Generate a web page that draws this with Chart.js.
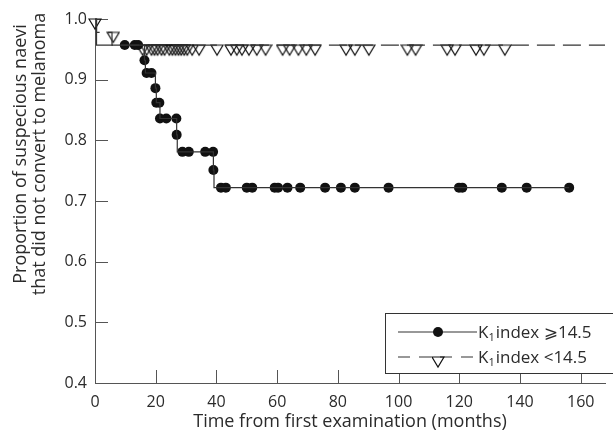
<!DOCTYPE html>
<html>
<head>
<meta charset="utf-8">
<script src="https://cdn.jsdelivr.net/npm/chart.js@4.4.0/dist/chart.umd.min.js"></script>
<style>
  html, body { margin: 0; padding: 0; background: #fff; }
</style>
</head>
<body>
<canvas id="km-chart" width="613" height="435"></canvas>
<script>
// Kaplan-Meier steps, K1 index >= 14.5 (months, proportion)
const highCurveTimes = [0, 0.5, 16.3, 16.6, 19.9, 20.2, 21.4, 26.9, 27.1, 39.0, 39.2, 156.2]
const highCurveSurv = [1.0, 0.957, 0.932, 0.911, 0.886, 0.862, 0.836, 0.809, 0.781, 0.751, 0.722, 0.722]
// circles drawn on that curve
const highMarkTimes = [9.8, 13.1, 14.2, 16.3, 17.0, 18.6, 19.9, 20.2, 21.2, 21.4, 23.5, 26.8, 26.9,
  28.8, 30.9, 36.3, 38.9, 39.0, 41.5, 43.1, 50.0, 51.8, 59.2, 60.3, 63.4, 67.6, 75.8, 81.0, 85.6,
  96.7, 119.9, 121.0, 134.0, 142.2, 156.2]
const highMarkSurv = [0.957, 0.957, 0.957, 0.932, 0.911, 0.911, 0.886, 0.862, 0.862, 0.836, 0.836, 0.836, 0.809,
  0.781, 0.781, 0.781, 0.781, 0.751, 0.722, 0.722, 0.722, 0.722, 0.722, 0.722, 0.722, 0.722, 0.722, 0.722, 0.722,
  0.722, 0.722, 0.722, 0.722, 0.722, 0.722]

// K1 index < 14.5
const lowCurveTimes = [0, 0.5, 5.6, 168]
const lowCurveSurv = [1.0, 0.978, 0.957, 0.957]
const lowMarkTimes = [0, 6.0, 15.7, 17.0, 18.6, 19.6, 20.6, 21.9, 22.9, 24.5, 25.5, 26.5, 27.5, 28.4, 29.4,
  30.4, 32.0, 34.3, 40.2, 44.8, 46.7, 48.4, 50.7, 53.3, 56.2, 61.8, 64.1, 67.0, 69.6, 72.5, 82.7, 85.6,
  90.2, 102.9, 105.6, 116.0, 118.6, 125.5, 128.1, 135.0]
const lowMarkSurv = [1.0, 0.978, 0.957, 0.957, 0.957, 0.957, 0.957, 0.957, 0.957, 0.957, 0.957, 0.957, 0.957,
  0.957, 0.957, 0.957, 0.957, 0.957, 0.957, 0.957, 0.957, 0.957, 0.957, 0.957, 0.957, 0.957, 0.957, 0.957,
  0.957, 0.957, 0.957, 0.957, 0.957, 0.957, 0.957, 0.957, 0.957, 0.957, 0.957, 0.957]

const seriesLabels = ['index \u2A7E14.5', 'index <14.5']
const yTitleLines = ['Proportion of suspecious naevi', 'that did not convert to melanoma']
const xTitle = 'Time from first examination (months)'

const textColor = '#2b2b2b'
const lineColor = '#333'
const fontFamily = '"Open Sans", "DejaVu Sans", sans-serif'
const tickLen = 13

const toPoints = (xs, ys) => xs.map((t, i) => ({ x: t, y: ys[i] }))

// open triangle, apex down, top edge sitting on the point
const makeTriangle = () => {
  const c = document.createElement('canvas')
  c.width = 14
  c.height = 24
  const g = c.getContext('2d')
  g.strokeStyle = '#111'
  g.lineWidth = 1.2
  g.beginPath()
  g.moveTo(1, 12)
  g.lineTo(13, 12)
  g.lineTo(7, 22)
  g.closePath()
  g.stroke()
  return c
}
const triangle = makeTriangle()

const kmDecor = {
  id: 'kmDecor',
  beforeDatasetsDraw(chart) {
    const { ctx, chartArea, scales } = chart
    ctx.save()
    ctx.strokeStyle = '#555'
    ctx.lineWidth = 1
    ctx.beginPath()
    scales.x.ticks.forEach(t => {
      const px = Math.round(scales.x.getPixelForValue(t.value)) + 0.5
      ctx.moveTo(px, chartArea.bottom)
      ctx.lineTo(px, chartArea.bottom - tickLen)
    })
    scales.y.ticks.forEach(t => {
      const py = Math.round(scales.y.getPixelForValue(t.value)) + 0.5
      ctx.moveTo(chartArea.left, py)
      ctx.lineTo(chartArea.left + tickLen, py)
    })
    ctx.stroke()
    ctx.restore()
  },
  afterDraw(chart) {
    const { ctx } = chart
    ctx.save()
    // y axis title, two centred lines
    ctx.fillStyle = textColor
    ctx.font = '18px ' + fontFamily
    ctx.textAlign = 'center'
    ctx.textBaseline = 'middle'
    yTitleLines.forEach((line, i) => {
      ctx.save()
      ctx.translate(21 + i * 19, 154)
      ctx.rotate(-Math.PI / 2)
      ctx.fillText(line, 0, 0)
      ctx.restore()
    })

    // legend box
    const bx = 385.5, by = 313.5
    ctx.fillStyle = '#fff'
    ctx.fillRect(bx, by, 240, 60)
    ctx.strokeStyle = '#333'
    ctx.lineWidth = 1
    ctx.strokeRect(bx, by, 240, 60)

    const rows = [332, 357]
    ctx.strokeStyle = lineColor
    ctx.lineWidth = 1.2
    // solid sample with circle
    ctx.beginPath()
    ctx.moveTo(398, rows[0])
    ctx.lineTo(477, rows[0])
    ctx.stroke()
    ctx.fillStyle = '#111'
    ctx.beginPath()
    ctx.arc(438, rows[0], 5, 0, Math.PI * 2)
    ctx.fill()
    // dashed sample with triangle
    ctx.setLineDash([12, 9])
    ctx.beginPath()
    ctx.moveTo(398, rows[1])
    ctx.lineTo(477, rows[1])
    ctx.stroke()
    ctx.setLineDash([])
    ctx.drawImage(triangle, 438 - 7, rows[1] - 12)

    // labels: K with subscript 1
    ctx.textAlign = 'left'
    ctx.textBaseline = 'alphabetic'
    ctx.fillStyle = textColor
    rows.forEach((ry, i) => {
      const base = ry + 6
      let tx = 478
      ctx.font = '17px ' + fontFamily
      ctx.fillText('K', tx, base)
      tx += ctx.measureText('K').width
      ctx.font = '11px ' + fontFamily
      ctx.fillText('1', tx, base + 3)
      tx += ctx.measureText('1').width + 1
      ctx.font = '17px ' + fontFamily
      ctx.fillText(seriesLabels[i], tx, base)
    })
    ctx.restore()
  }
}

const ctx = document.getElementById('km-chart').getContext('2d')
new Chart(ctx, {
  type: 'line',
  data: {
    datasets: [
      {
        data: toPoints(lowCurveTimes, lowCurveSurv),
        borderColor: lineColor,
        borderWidth: 1.2,
        borderDash: [18, 8],
        stepped: true,
        pointRadius: 0,
        clip: false
      },
      {
        data: toPoints(highCurveTimes, highCurveSurv),
        borderColor: lineColor,
        borderWidth: 1.2,
        stepped: true,
        pointRadius: 0,
        clip: false
      },
      {
        data: toPoints(lowMarkTimes, lowMarkSurv),
        showLine: false,
        pointStyle: triangle,
        pointRadius: 7,
        clip: false
      },
      {
        data: toPoints(highMarkTimes, highMarkSurv),
        showLine: false,
        pointStyle: 'circle',
        pointRadius: 5,
        pointBackgroundColor: '#111',
        pointBorderWidth: 0,
        clip: false
      }
    ]
  },
  options: {
    responsive: false,
    animation: false,
    devicePixelRatio: 1,
    layout: { padding: { top: 19, right: 4, left: 0, bottom: 0 } },
    plugins: {
      legend: { display: false },
      tooltip: { enabled: false }
    },
    scales: {
      x: {
        type: 'linear',
        min: 0,
        max: 168,
        afterFit: scale => { scale.height = 52 },
        grid: { display: false, drawTicks: false },
        border: { display: true, color: '#555', width: 1 },
        ticks: {
          stepSize: 20,
          includeBounds: false,
          padding: 10,
          color: textColor,
          font: { family: fontFamily, size: 16 },
          maxRotation: 0
        },
        title: {
          display: true,
          text: xTitle,
          color: textColor,
          font: { family: fontFamily, size: 18 },
          padding: { top: 0, bottom: 2 }
        }
      },
      y: {
        min: 0.4,
        max: 1.0,
        afterFit: scale => { scale.width = 95 },
        grid: { display: false, drawTicks: false },
        border: { display: true, color: '#555', width: 1 },
        ticks: {
          stepSize: 0.1,
          padding: 8,
          color: textColor,
          font: { family: fontFamily, size: 16 },
          callback: v => v.toFixed(1)
        }
      }
    }
  },
  plugins: [kmDecor]
})
</script>
</body>
</html>
